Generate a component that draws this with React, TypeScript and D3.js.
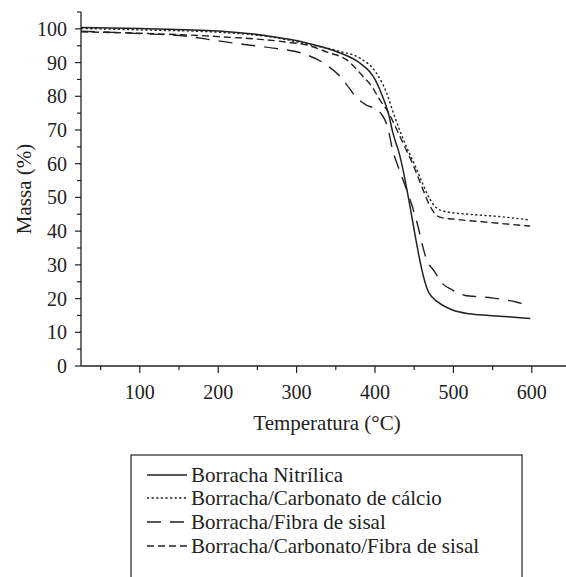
import React from "react";
import * as d3 from "d3";

const W = 566;
const H = 577;

// Borracha Nitrílica
const nitT = [25, 100, 200, 260, 313, 355, 381, 398, 408, 417, 423, 430, 469, 480, 499, 520, 545, 570, 598];
const nitM = [100.4, 100.1, 99.4, 98, 95.8, 92.9, 89.8, 85.8, 80.9, 75, 69, 63.8, 21.6, 19, 16.6, 15.5, 15, 14.6, 14.1];

// Borracha/Carbonato de cálcio
const carT = [25, 100, 200, 270, 313, 355, 381, 402, 415, 425, 434, 442, 450, 460, 470, 478, 490, 520, 560, 598];
const carM = [100.1, 99.7, 99, 97.5, 95.5, 93.3, 91.3, 86.8, 80.9, 74, 68.5, 64, 60, 54.5, 49.5, 47, 45.8, 45, 44.3, 43.3];

// Borracha/Fibra de sisal
const fibT = [25, 100, 160, 198, 236, 270, 313, 340, 355, 364, 375, 389, 400, 408, 414, 418, 422, 429, 440, 448, 453, 466, 476, 484, 499, 514, 534, 549, 566, 580, 598];
const fibM = [99.3, 98.6, 97.8, 96.5, 95.3, 94.3, 92.3, 89, 86, 83.4, 80, 77.4, 76.3, 74.8, 72.2, 69, 64.5, 59.5, 52.5, 47, 43, 31.5, 28, 25, 22.5, 21, 20.5, 20.2, 19.6, 19, 17.8];

// Borracha/Carbonato/Fibra de sisal
const cfiT = [25, 100, 200, 290, 313, 340, 364, 385, 396, 406, 417, 430, 440, 448, 460, 470, 478, 485, 499, 540, 598];
const cfiM = [99.1, 98.7, 97.7, 96, 95.2, 93, 90.8, 85.8, 82.9, 79, 75.2, 69, 64, 60, 53, 47.5, 44.8, 44, 43.6, 42.7, 41.5];

const xTicks = [100, 200, 300, 400, 500, 600];
const xMinor = [50, 150, 250, 350, 450, 550, 650];
const yTicks = [0, 10, 20, 30, 40, 50, 60, 70, 80, 90, 100];
const yMinor = [5, 15, 25, 35, 45, 55, 65, 75, 85, 95, 105];

const seriesNames = [
  "Borracha Nitrílica",
  "Borracha/Carbonato de cálcio",
  "Borracha/Fibra de sisal",
  "Borracha/Carbonato/Fibra de sisal",
];

const FONT = '"Liberation Serif", "DejaVu Serif", serif';
const tick: React.CSSProperties = { fontFamily: FONT, fontSize: "20px" };
const big: React.CSSProperties = { fontFamily: FONT, fontSize: "21px" };

export default function App() {
  const x = d3.scaleLinear().domain([25, 650]).range([81, 571]);
  const y = d3.scaleLinear().domain([0, 105]).range([366, 12]);

  const line = d3
    .line<[number, number]>()
    .x((d) => x(d[0]))
    .y((d) => y(d[1]))
    .curve(d3.curveMonotoneX);

  const zip = (t: number[], m: number[]) => t.map((v, i) => [v, m[i]] as [number, number]);

  const series = [
    { pts: zip(nitT, nitM), dash: "", w: 1.5 },
    { pts: zip(carT, carM), dash: "2.2,2.4", w: 1.4 },
    { pts: zip(fibT, fibM), dash: "14,9", w: 1.4 },
    { pts: zip(cfiT, cfiM), dash: "7,4", w: 1.4 },
  ];

  const x0 = 81;
  const yBase = 366;
  const legX = 131;
  const legY = 455;
  const rowY = [475, 498, 522, 546];

  return (
    <svg
      width={W}
      height={H}
      style={{ position: "absolute", left: 0, top: 0, background: "#fff" }}
    >
      <rect x={0} y={0} width={W} height={H} fill="#fff" />
      {/* axes */}
      <line x1={x0} x2={x0} y1={12} y2={yBase} stroke="#222" strokeWidth={1.3} />
      <line x1={x0} x2={W} y1={yBase} y2={yBase} stroke="#222" strokeWidth={1.3} />
      {yTicks.map((t) => (
        <g key={"y" + t}>
          <line x1={x0 - 6} x2={x0} y1={y(t)} y2={y(t)} stroke="#222" strokeWidth={1.2} />
          <text x={67} y={y(t)} dy="0.35em" textAnchor="end" style={tick} fill="#222">
            {t}
          </text>
        </g>
      ))}
      {yMinor.map((t) => (
        <line key={"ym" + t} x1={x0 - 4} x2={x0} y1={y(t)} y2={y(t)} stroke="#222" strokeWidth={1.2} />
      ))}
      {xTicks.map((t) => (
        <g key={"x" + t}>
          <line x1={x(t)} x2={x(t)} y1={yBase} y2={yBase + 7} stroke="#222" strokeWidth={1.2} />
          <text x={x(t)} y={399} textAnchor="middle" style={tick} fill="#222">
            {t}
          </text>
        </g>
      ))}
      {xMinor.map((t) => (
        <line key={"xm" + t} x1={x(t)} x2={x(t)} y1={yBase} y2={yBase + 4} stroke="#222" strokeWidth={1.2} />
      ))}
      <text x={327} y={430} textAnchor="middle" style={big} fill="#222">
        Temperatura (°C)
      </text>
      <text
        transform={`translate(31, 189) rotate(-90)`}
        textAnchor="middle"
        style={big}
        fill="#222"
      >
        Massa (%)
      </text>
      {/* curves */}
      {series.map((s, i) => (
        <path
          key={i}
          d={line(s.pts) || ""}
          fill="none"
          stroke="#222"
          strokeWidth={s.w}
          strokeDasharray={s.dash || undefined}
        />
      ))}
      {/* legend */}
      <rect x={legX} y={legY} width={391} height={160} fill="none" stroke="#222" strokeWidth={1.2} />
      {seriesNames.map((n, i) => (
        <g key={n}>
          <line
            x1={147}
            x2={187}
            y1={rowY[i]}
            y2={rowY[i]}
            stroke="#222"
            strokeWidth={series[i].w}
            strokeDasharray={series[i].dash || undefined}
          />
          <text x={191} y={rowY[i]} dy="0.33em" style={big} fill="#222">
            {n}
          </text>
        </g>
      ))}
    </svg>
  );
}
